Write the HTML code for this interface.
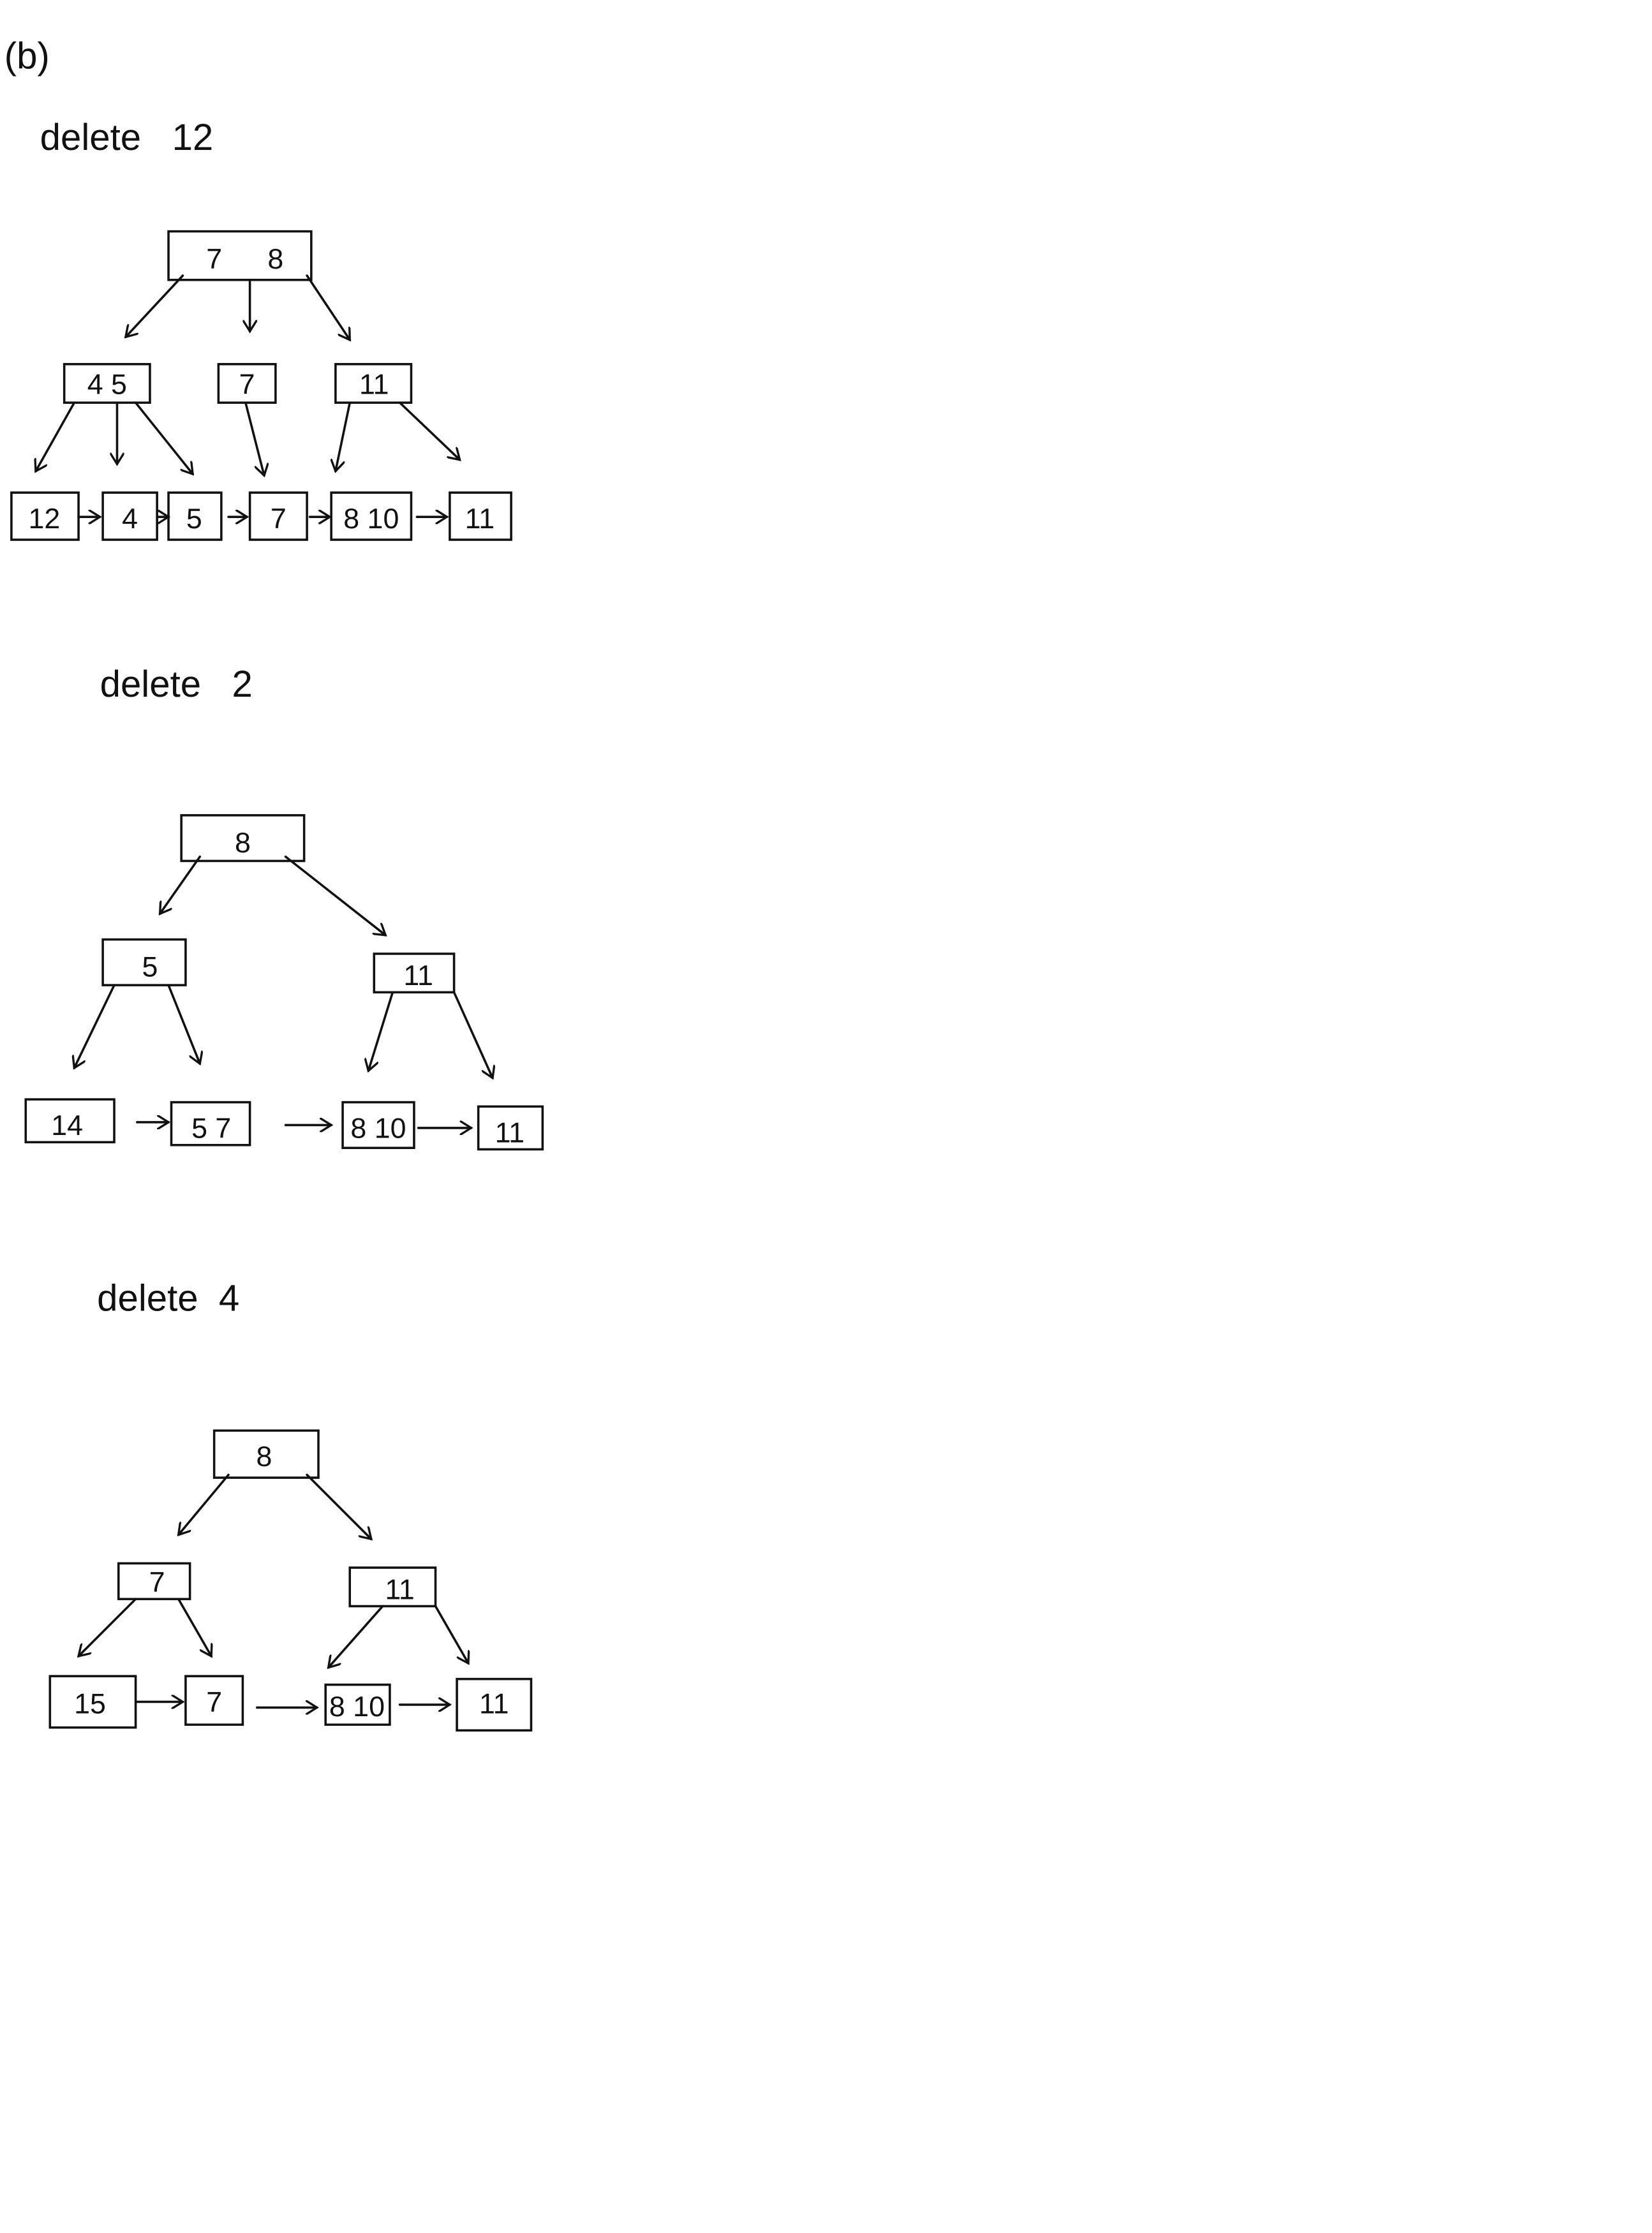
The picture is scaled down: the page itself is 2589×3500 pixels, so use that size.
<!DOCTYPE html>
<html><head><meta charset="utf-8"><style>
html,body{margin:0;padding:0;background:#fff;}
svg{display:block;}
text{font-family:"Liberation Sans",sans-serif;fill:#111;}
</style></head><body>
<svg width="2589" height="3500" viewBox="0 0 1157 1564" xmlns="http://www.w3.org/2000/svg">
<defs><marker id="ah" markerWidth="10" markerHeight="10" refX="8" refY="5" orient="auto" markerUnits="userSpaceOnUse"><path d="M0,0 L8,5 L0,10" fill="none" stroke="#111" stroke-width="1.5"/></marker></defs>
<g fill="none" stroke="#111" stroke-width="1.6" stroke-linecap="round">
<!-- tree 1 -->
<rect x="118" y="162" width="100" height="34"/>
<line x1="128" y1="193" x2="88" y2="236" marker-end="url(#ah)"/>
<line x1="175" y1="196" x2="175" y2="232" marker-end="url(#ah)"/>
<line x1="215" y1="193" x2="245" y2="238" marker-end="url(#ah)"/>
<rect x="45" y="255" width="60" height="27"/><rect x="153" y="255" width="40" height="27"/><rect x="235" y="255" width="53" height="27"/>
<line x1="52" y1="282" x2="25" y2="330" marker-end="url(#ah)"/>
<line x1="82" y1="282" x2="82" y2="325" marker-end="url(#ah)"/>
<line x1="95" y1="282" x2="135" y2="332" marker-end="url(#ah)"/>
<line x1="172" y1="282" x2="185" y2="333" marker-end="url(#ah)"/>
<line x1="245" y1="282" x2="235" y2="330" marker-end="url(#ah)"/>
<line x1="280" y1="282" x2="322" y2="322" marker-end="url(#ah)"/>
<rect x="8" y="345" width="47" height="33"/><rect x="72" y="345" width="38" height="33"/><rect x="118" y="345" width="37" height="33"/><rect x="175" y="345" width="40" height="33"/><rect x="232" y="345" width="56" height="33"/><rect x="315" y="345" width="43" height="33"/>
<line x1="55" y1="362" x2="70" y2="362" marker-end="url(#ah)"/>
<line x1="110" y1="362" x2="118" y2="362" marker-end="url(#ah)"/>
<line x1="160" y1="362" x2="173" y2="362" marker-end="url(#ah)"/>
<line x1="217" y1="362" x2="231" y2="362" marker-end="url(#ah)"/>
<line x1="292" y1="362" x2="313" y2="362" marker-end="url(#ah)"/>
<!-- tree 2 -->
<rect x="127" y="571" width="86" height="32"/>
<line x1="140" y1="600" x2="112" y2="640" marker-end="url(#ah)"/>
<line x1="200" y1="600" x2="270" y2="655" marker-end="url(#ah)"/>
<rect x="72" y="658" width="58" height="32"/><rect x="262" y="668" width="56" height="27"/>
<line x1="80" y1="690" x2="52" y2="748" marker-end="url(#ah)"/>
<line x1="118" y1="690" x2="140" y2="745" marker-end="url(#ah)"/>
<line x1="275" y1="695" x2="258" y2="750" marker-end="url(#ah)"/>
<line x1="318" y1="695" x2="345" y2="755" marker-end="url(#ah)"/>
<rect x="18" y="770" width="62" height="30"/><rect x="120" y="772" width="55" height="30"/><rect x="240" y="772" width="50" height="32"/><rect x="335" y="775" width="45" height="30"/>
<line x1="96" y1="786" x2="118" y2="786" marker-end="url(#ah)"/>
<line x1="200" y1="788" x2="232" y2="788" marker-end="url(#ah)"/>
<line x1="293" y1="790" x2="330" y2="790" marker-end="url(#ah)"/>
<!-- tree 3 -->
<rect x="150" y="1002" width="73" height="33"/>
<line x1="160" y1="1033" x2="125" y2="1075" marker-end="url(#ah)"/>
<line x1="215" y1="1033" x2="260" y2="1078" marker-end="url(#ah)"/>
<rect x="83" y="1095" width="50" height="25"/><rect x="245" y="1098" width="60" height="27"/>
<line x1="95" y1="1120" x2="55" y2="1160" marker-end="url(#ah)"/>
<line x1="125" y1="1120" x2="148" y2="1160" marker-end="url(#ah)"/>
<line x1="268" y1="1125" x2="230" y2="1168" marker-end="url(#ah)"/>
<line x1="305" y1="1125" x2="328" y2="1165" marker-end="url(#ah)"/>
<rect x="35" y="1174" width="60" height="36"/><rect x="130" y="1174" width="40" height="34"/><rect x="228" y="1180" width="45" height="28"/><rect x="320" y="1176" width="52" height="36"/>
<line x1="96" y1="1192" x2="128" y2="1192" marker-end="url(#ah)"/>
<line x1="180" y1="1196" x2="222" y2="1196" marker-end="url(#ah)"/>
<line x1="280" y1="1194" x2="315" y2="1194" marker-end="url(#ah)"/>
</g>
<g font-size="26">
<text x="3" y="48">(b)</text>
<text x="28" y="105">delete&#160;&#160;&#160;12</text>
<text x="70" y="488">delete&#160;&#160;&#160;2</text>
<text x="68" y="918">delete&#160;&#160;4</text>
</g>
<g font-size="20" text-anchor="middle">
<text x="150" y="188">7</text><text x="193" y="188">8</text>
<text x="75" y="276">4 5</text><text x="173" y="276">7</text><text x="262" y="276">11</text>
<text x="31" y="370">12</text><text x="91" y="370">4</text><text x="136" y="370">5</text><text x="195" y="370">7</text><text x="260" y="370">8 10</text><text x="336" y="370">11</text>
<text x="170" y="597">8</text>
<text x="105" y="684">5</text><text x="293" y="690">11</text>
<text x="47" y="795">14</text><text x="148" y="797">5 7</text><text x="265" y="797">8 10</text><text x="357" y="800">11</text>
<text x="185" y="1027">8</text>
<text x="110" y="1115">7</text><text x="280" y="1120">11</text>
<text x="63" y="1200">15</text><text x="150" y="1199">7</text><text x="250" y="1202">8 10</text><text x="346" y="1200">11</text>
</g>
</svg>
</body></html>
